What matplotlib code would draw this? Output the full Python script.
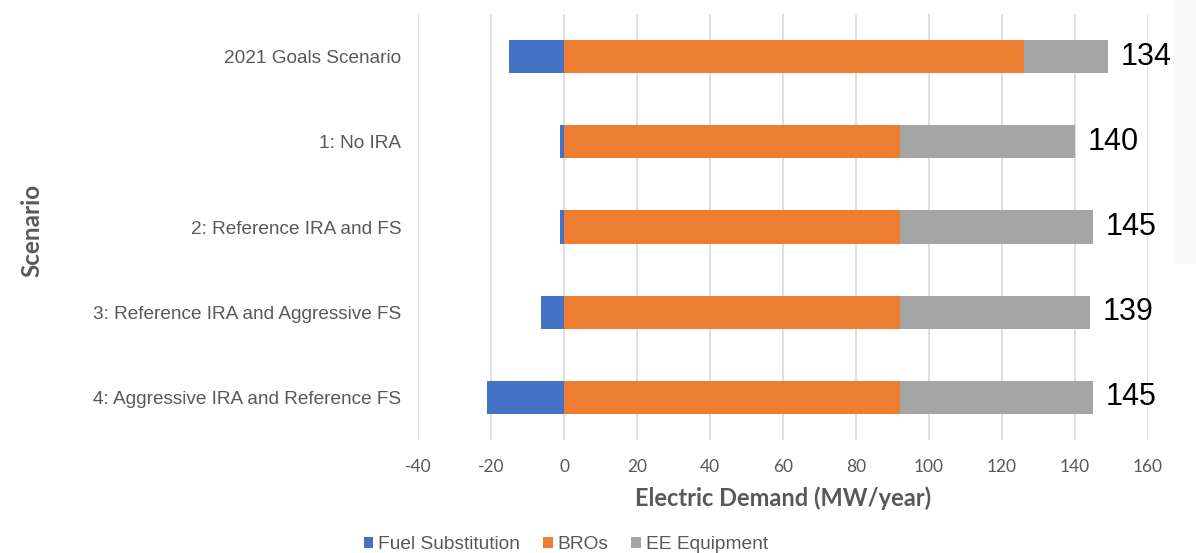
import matplotlib.pyplot as plt
from matplotlib.patches import Rectangle
import numpy as np

# scenario breakdown of electric demand (MW/year)
scenarios = ["2021 Goals Scenario", "1: No IRA", "2: Reference IRA and FS",
             "3: Reference IRA and Aggressive FS", "4: Aggressive IRA and Reference FS"]
fuel_sub = [-15, -1.2, -1.2, -6.3, -21]
bros = [126, 92, 92, 92, 92]
ee_equip = [23, 48, 53, 52, 53]
totals = [134, 140, 145, 139, 145]
xticks = list(range(-40, 161, 20))

c_fs, c_bro, c_ee = "#4472C4", "#ED7D31", "#A5A5A5"
txt = "#595959"
narrow = ["Lato", "DejaVu Sans"]
plt.rcParams["font.family"] = ["Liberation Sans", "DejaVu Sans"]

fig = plt.figure(figsize=(11.96, 5.53), dpi=100)
# faint panel edge on the right side
fig.patches.append(Rectangle((0.981, 0.525), 0.02, 0.48, transform=fig.transFigure,
                             color="#F9F9F9", zorder=0))
ax = fig.add_axes([0.3495, 0.2043, 0.6104, 0.7704])
ax.patch.set_alpha(0)

y = np.arange(len(scenarios))
h = 0.39
ax.barh(y, fuel_sub, height=h, color=c_fs, label="Fuel Substitution", zorder=3)
ax.barh(y, bros, height=h, color=c_bro, label="BROs", zorder=3)
ax.barh(y, ee_equip, left=bros, height=h, color=c_ee, label="EE Equipment", zorder=3)

ends = np.array(bros) + np.array(ee_equip)
for yi, e, t in zip(y, ends, totals):
    ax.annotate(str(t), (e, yi), xytext=(9, 0), textcoords="offset points",
                va="center", ha="left", fontsize=22, color="black")

ax.set_xlim(-40, 160)
ax.set_ylim(len(scenarios) - 0.5, -0.5)
ax.set_xticks(xticks)
ax.set_xticklabels([str(v) for v in xticks], family=narrow, fontsize=12.5, color=txt)
ax.set_yticks(y)
ax.set_yticklabels(scenarios, fontsize=13.7, color=txt)
ax.tick_params(length=0, pad=12)
ax.tick_params(axis="x", pad=14)
ax.grid(axis="x", color="#D9D9D9", linewidth=1.2, zorder=0)
for s in ax.spines.values():
    s.set_visible(False)

ax.set_xlabel("Electric Demand (MW/year)", fontsize=17, fontweight="bold",
              color=txt, family=narrow, labelpad=8)
fig.text(0.027, 0.584, "Scenario", rotation=90, fontsize=17.5, fontweight="bold",
         color=txt, family=narrow, ha="center", va="center")

fig.legend(loc="lower center", bbox_to_anchor=(0.473, -0.032), ncol=3, frameon=False,
           fontsize=13.8, handlelength=0.5, handleheight=0.5, handletextpad=0.25,
           columnspacing=1.2, labelcolor=txt)

fig.savefig("out.png", dpi=100)
